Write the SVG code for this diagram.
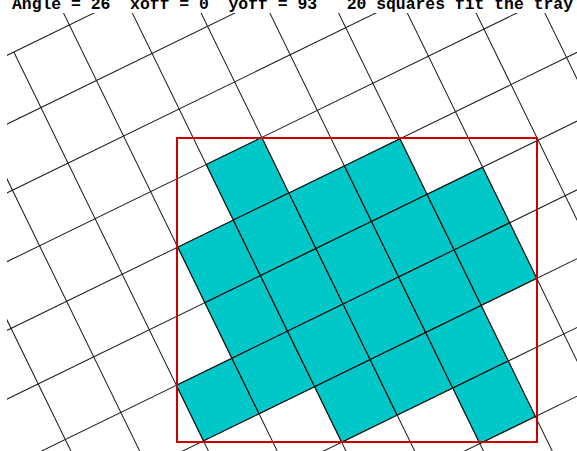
<svg xmlns="http://www.w3.org/2000/svg" width="577" height="451" viewBox="0 0 577 451">
  <style>
    .grid line { stroke: #1a1a1a; stroke-width: 1; }
    .cell { fill: #00c8c8; stroke: #1a1a1a; stroke-width: 1; }
    .tray { fill: none; stroke: #cc0000; stroke-width: 2; }
    .title { font-family: "Liberation Mono", "DejaVu Sans Mono", monospace; font-weight: bold; font-size: 16.4px; fill: #000; }
  </style>
  <defs>
    <clipPath id="area">
      <rect x="7" y="13" width="570" height="438"/>
    </clipPath>
  </defs>
  <rect x="0" y="0" width="577" height="451" fill="#fff"/>
  <g id="title">
    <text class="title" x="12" y="9" textLength="561" lengthAdjust="spacingAndGlyphs" xml:space="preserve">Angle = 26  xoff = 0  yoff = 93   20 squares fit the tray</text>
  </g>
  <g clip-path="url(#area)">
    <g transform="translate(206.2 164.5) rotate(-26)">
      <g id="squares">
        <rect class="cell" x="0" y="0" width="61.8" height="61.8"/>
        <rect class="cell" x="-61.8" y="61.8" width="61.8" height="61.8"/>
        <rect class="cell" x="0" y="61.8" width="61.8" height="61.8"/>
        <rect class="cell" x="61.8" y="61.8" width="61.8" height="61.8"/>
        <rect class="cell" x="123.6" y="61.8" width="61.8" height="61.8"/>
        <rect class="cell" x="-61.8" y="123.6" width="61.8" height="61.8"/>
        <rect class="cell" x="0" y="123.6" width="61.8" height="61.8"/>
        <rect class="cell" x="61.8" y="123.6" width="61.8" height="61.8"/>
        <rect class="cell" x="123.6" y="123.6" width="61.8" height="61.8"/>
        <rect class="cell" x="185.4" y="123.6" width="61.8" height="61.8"/>
        <rect class="cell" x="-123.6" y="185.4" width="61.8" height="61.8"/>
        <rect class="cell" x="-61.8" y="185.4" width="61.8" height="61.8"/>
        <rect class="cell" x="0" y="185.4" width="61.8" height="61.8"/>
        <rect class="cell" x="61.8" y="185.4" width="61.8" height="61.8"/>
        <rect class="cell" x="123.6" y="185.4" width="61.8" height="61.8"/>
        <rect class="cell" x="185.4" y="185.4" width="61.8" height="61.8"/>
        <rect class="cell" x="0" y="247.2" width="61.8" height="61.8"/>
        <rect class="cell" x="61.8" y="247.2" width="61.8" height="61.8"/>
        <rect class="cell" x="123.6" y="247.2" width="61.8" height="61.8"/>
        <rect class="cell" x="123.6" y="309" width="61.8" height="61.8"/>
      </g>
      <g id="grid" class="grid">
        <line x1="-500" y1="-185.4" x2="560" y2="-185.4"/>
        <line x1="-500" y1="-123.6" x2="560" y2="-123.6"/>
        <line x1="-500" y1="-61.8" x2="560" y2="-61.8"/>
        <line x1="-500" y1="0" x2="560" y2="0"/>
        <line x1="-500" y1="61.8" x2="560" y2="61.8"/>
        <line x1="-500" y1="123.6" x2="560" y2="123.6"/>
        <line x1="-500" y1="185.4" x2="560" y2="185.4"/>
        <line x1="-500" y1="247.2" x2="560" y2="247.2"/>
        <line x1="-500" y1="309" x2="560" y2="309"/>
        <line x1="-500" y1="370.8" x2="560" y2="370.8"/>
        <line x1="-309" y1="-320" x2="-309" y2="520"/>
        <line x1="-247.2" y1="-320" x2="-247.2" y2="520"/>
        <line x1="-185.4" y1="-320" x2="-185.4" y2="520"/>
        <line x1="-123.6" y1="-185.4" x2="-123.6" y2="520"/>
        <line x1="-61.8" y1="-320" x2="-61.8" y2="520"/>
        <line x1="0" y1="-320" x2="0" y2="520"/>
        <line x1="61.8" y1="-320" x2="61.8" y2="520"/>
        <line x1="123.6" y1="-320" x2="123.6" y2="520"/>
        <line x1="185.4" y1="-320" x2="185.4" y2="520"/>
        <line x1="247.2" y1="-320" x2="247.2" y2="520"/>
        <line x1="309" y1="-320" x2="309" y2="520"/>
        <line x1="370.8" y1="-320" x2="370.8" y2="520"/>
      </g>
    </g>
  </g>
  <g id="tray">
    <rect class="tray" x="177" y="138" width="360" height="304"/>
  </g>
</svg>
